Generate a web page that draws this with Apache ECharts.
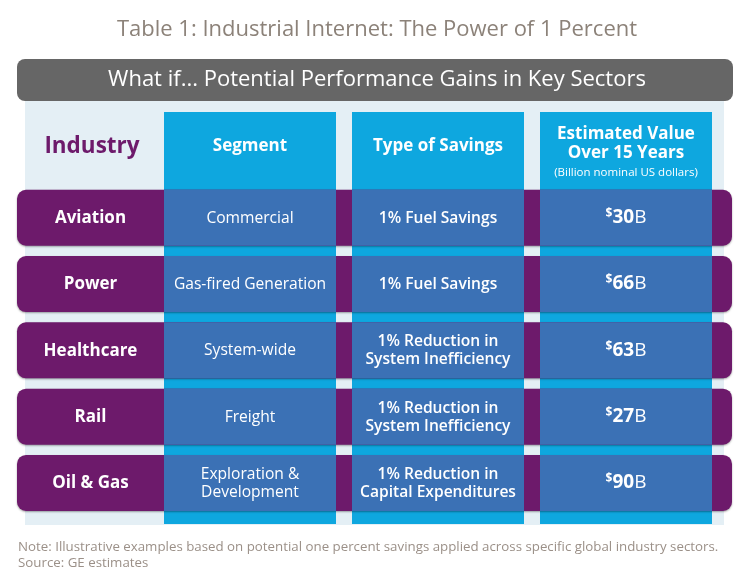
<!DOCTYPE html>
<html><head><meta charset="utf-8">
<script src="https://cdn.jsdelivr.net/npm/echarts@6/dist/echarts.min.js"></script>
<style>html,body{margin:0;padding:0;background:#fff}#c{width:754px;height:584px}</style>
</head><body><div id="c"></div>
<script>
// ---- data ----
var industries = ['Aviation', 'Power', 'Healthcare', 'Rail', 'Oil & Gas'];
var segments = ['Commercial', 'Gas-fired Generation', 'System-wide', 'Freight', 'Exploration &\nDevelopment'];
var savingsTypes = ['1% Fuel Savings', '1% Fuel Savings', '1% Reduction in\nSystem Inefficiency', '1% Reduction in\nSystem Inefficiency', '1% Reduction in\nCapital Expenditures'];
var values = [30, 66, 63, 27, 90];
var columnHeaders = ['Segment', 'Type of Savings', 'Estimated Value\nOver 15 Years'];
var columnSubHeaders = ['', '', '(Billion nominal US dollars)'];
var industryHeader = 'Industry';
var titleText = 'Table 1: Industrial Internet: The Power of 1 Percent';
var bannerText = 'What if... Potential Performance Gains in Key Sectors';
var noteLines = ['Note: Illustrative examples based on potential one percent savings applied across specific global industry sectors.', 'Source: GE estimates'];

// ---- styling / layout ----
var FONT = '"Open Sans", Lato, sans-serif';
var PURPLE = '#6d1a6b', BLUE = '#3b71b5', CYAN = '#0ea7df', PANEL = '#e4eff5', BANNER = '#666666';
var STRIP_TOP = 112, STRIP_BOTTOM = 524, ROW_LEFT = 17, ROW_RIGHT = 732, ROW_H = 56, COL_GAP = 16;

var chart = echarts.init(document.getElementById('c'));

var stripData = columnHeaders.map(function (h, j) { return [j, 0, h, columnSubHeaders[j]]; });
var rowData = industries.map(function (n, i) { return [0, i, n]; });
var cellData = [];
industries.forEach(function (n, i) {
  cellData.push([0, i, segments[i], 'segment']);
  cellData.push([1, i, savingsTypes[i], 'savings']);
  cellData.push([2, i, String(values[i]), 'value']);
});

function stripRender(params, api) {
  var c = api.coord([api.value(0), 0]);
  var w = api.size([1, 0])[0] - COL_GAP;
  var head = api.value(2), sub = api.value(3);
  var children = [{
    type: 'rect', shape: { x: c[0] - w / 2, y: STRIP_TOP, width: w, height: STRIP_BOTTOM - STRIP_TOP },
    style: { fill: CYAN }
  }];
  var multi = head.indexOf('\n') >= 0;
  children.push({
    type: 'text', style: {
      text: head, x: c[0], y: multi ? 143.5 : 146, align: 'center', verticalAlign: 'middle',
      fill: '#fff', fontSize: 17, fontWeight: 'bold', fontFamily: FONT, lineHeight: 19
    }
  });
  if (sub) {
    children.push({
      type: 'text', style: {
        text: sub, x: c[0], y: 173, align: 'center', verticalAlign: 'middle',
        fill: '#fff', fontSize: 11.5, fontFamily: FONT
      }
    });
  }
  return { type: 'group', children: children };
}

function rowRender(params, api) {
  var c = api.coord([0, api.value(1)]);
  var gridLeft = params.coordSys.x;
  return {
    type: 'group', children: [{
      type: 'rect', shape: { x: ROW_LEFT, y: c[1] - ROW_H / 2, width: ROW_RIGHT - ROW_LEFT, height: ROW_H, r: 9 },
      style: { fill: PURPLE, shadowBlur: 2, shadowOffsetY: 1, shadowColor: 'rgba(0,0,0,0.35)' }
    }, {
      type: 'text', style: {
        text: api.value(2), x: (ROW_LEFT + gridLeft + COL_GAP / 2) / 2, y: c[1] + 0.5,
        align: 'center', verticalAlign: 'middle', fill: '#fff', fontSize: 17, fontWeight: 'bold', fontFamily: FONT
      }
    }]
  };
}

function cellRender(params, api) {
  var c = api.coord([api.value(0), api.value(1)]);
  var w = api.size([1, 0])[0] - COL_GAP;
  var txt = api.value(2), kind = api.value(3);
  var textEl;
  if (kind === 'value') {
    textEl = {
      type: 'text', style: {
        text: '{d|$}{n|' + txt + '}{b|B}', x: c[0], y: c[1], align: 'center', verticalAlign: 'middle',
        fill: '#fff', fontFamily: FONT,
        rich: {
          d: { fontSize: 12, fontWeight: 'bold', fill: '#fff', fontFamily: FONT, verticalAlign: 'top', lineHeight: 24, padding: [2, 0, 0, 0] },
          n: { fontSize: 19, fontWeight: 'bold', fill: '#fff', fontFamily: FONT, lineHeight: 24 },
          b: { fontSize: 19, fontWeight: 'normal', fill: '#fff', fontFamily: FONT, lineHeight: 24 }
        }
      }
    };
  } else {
    textEl = {
      type: 'text', style: {
        text: txt, x: c[0], y: c[1] + 0.5, align: 'center', verticalAlign: 'middle',
        fill: '#fff', fontSize: 15.6, fontFamily: FONT, fontWeight: kind === 'savings' ? 600 : 'normal', lineHeight: 18
      }
    };
  }
  return {
    type: 'group', children: [{
      type: 'rect', shape: { x: c[0] - w / 2, y: c[1] - ROW_H / 2, width: w, height: ROW_H },
      style: { fill: BLUE }
    }, textEl]
  };
}

chart.setOption({
  animation: false,
  backgroundColor: '#fff',
  title: {
    text: titleText, left: 'center', top: 14,
    textStyle: { color: '#8c8279', fontSize: 22, fontWeight: 'normal', fontFamily: FONT }
  },
  grid: { left: 156, right: 34, top: 184.6, height: 331.5 },
  xAxis: { type: 'category', data: columnHeaders, show: false },
  yAxis: { type: 'category', data: industries, inverse: true, show: false },
  graphic: [
    { type: 'rect', z: 0, shape: { x: 25, y: 90, width: 699, height: 435 }, style: { fill: PANEL } },
    { type: 'rect', z: 1, shape: { x: 17, y: 59, width: 716, height: 42, r: 8 }, style: { fill: BANNER } },
    { type: 'text', z: 2, style: { text: bannerText, x: 377, y: 80, align: 'center', verticalAlign: 'middle', fill: '#fff', fontSize: 22, fontFamily: FONT } },
    { type: 'text', z: 2, style: { text: industryHeader, x: 92, y: 147, align: 'center', verticalAlign: 'middle', fill: PURPLE, fontSize: 22.5, fontWeight: 'bold', fontFamily: FONT } },
    { type: 'text', z: 2, style: { text: noteLines.join('\n'), x: 18, y: 539, align: 'left', verticalAlign: 'top', fill: '#9b9088', fontSize: 13.3, lineHeight: 16, fontFamily: FONT } }
  ],
  series: [
    { type: 'custom', z: 3, renderItem: stripRender, data: stripData, encode: { x: 0, y: 1 }, silent: true },
    { type: 'custom', z: 4, renderItem: rowRender, data: rowData, encode: { x: 0, y: 1 }, silent: true },
    { type: 'custom', z: 5, renderItem: cellRender, data: cellData, encode: { x: 0, y: 1 }, silent: true }
  ]
});
</script></body></html>
